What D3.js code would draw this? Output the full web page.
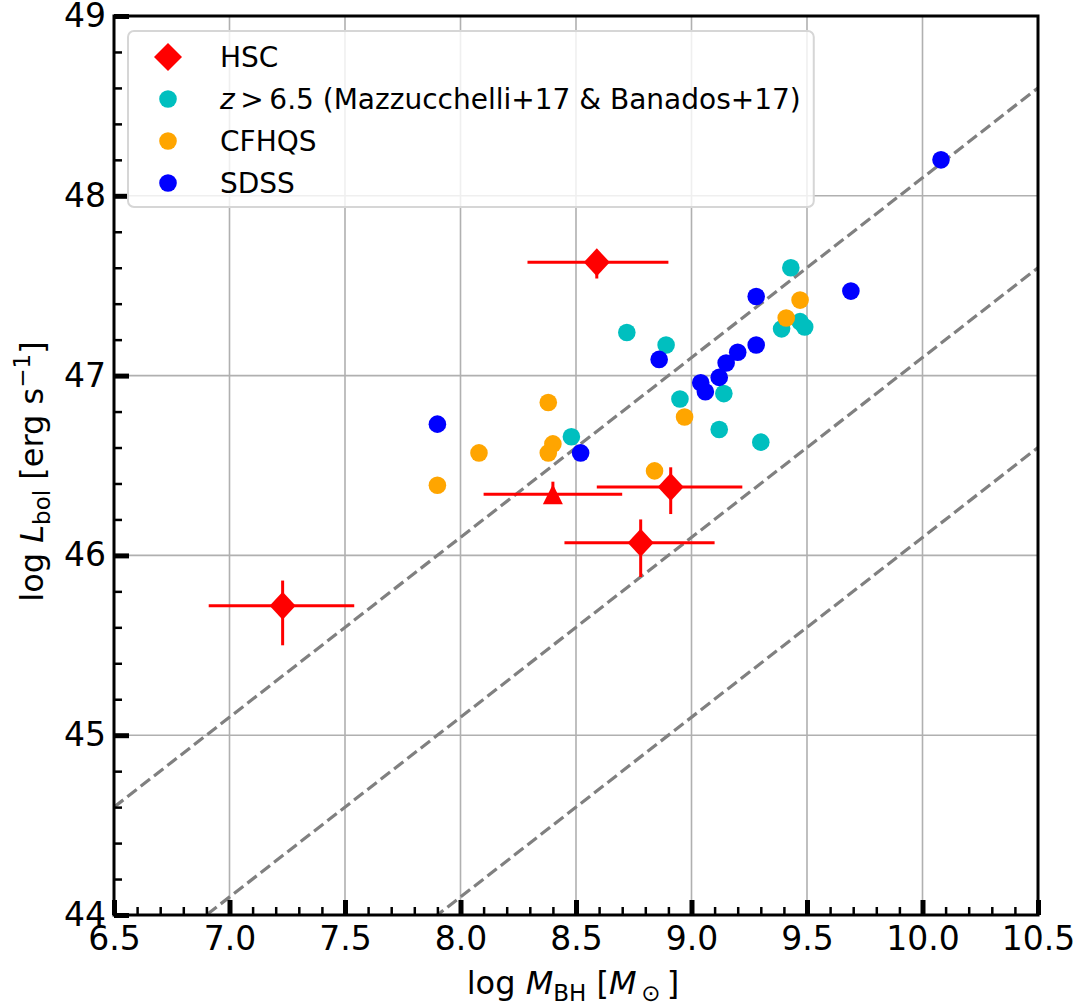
<!DOCTYPE html>
<html>
<head>
    <meta charset="utf-8">
    <title>lbol-vs-mbh</title>
    <style>
body { margin: 0; background: #fff; }
text { font-family: "DejaVu Sans", sans-serif; fill: #000; }
.grid line { stroke: #b0b0b0; stroke-width: 1.6; }
.eddington { fill: none; stroke: #808080; stroke-width: 3.2; stroke-dasharray: 11.8,5.1; }
.axis path { display: none; }
.axis text { font-size: 33px; }
    </style>
</head>
<body>
<script src="https://cdn.jsdelivr.net/npm/d3@7"></script>
<script>
// HSC quasars (one upper/lower-limit style point drawn as a triangle)
var hscMass     = [8.59, 8.40, 8.91, 8.78, 7.23];
var hscLum      = [47.63, 46.34, 46.38, 46.07, 45.72];
var hscMassLo   = [0.30, 0.30, 0.32, 0.33, 0.32];
var hscMassHi   = [0.31, 0.30, 0.31, 0.32, 0.31];
var hscLumLo    = [0.09, 0.05, 0.15, 0.19, 0.22];
var hscLumHi    = [0.06, 0.07, 0.11, 0.13, 0.14];
var hscMarker   = ["diamond", "triangle", "diamond", "diamond", "diamond"];

// z > 6.5 (Mazzucchelli+17 & Banados+17)
var highzMass = [8.72, 8.89, 9.43, 9.39, 9.47, 9.49, 8.95, 9.14, 9.12, 9.30, 8.48];
var highzLum  = [47.24, 47.17, 47.60, 47.26, 47.30, 47.27, 46.87, 46.90, 46.70, 46.63, 46.66];

// CFHQS
var cfhqsMass = [8.38, 8.40, 8.38, 8.08, 7.90, 8.84, 8.97, 9.41, 9.47];
var cfhqsLum  = [46.85, 46.62, 46.57, 46.57, 46.39, 46.47, 46.77, 47.32, 47.42];

// SDSS
var sdssMass = [7.90, 8.52, 8.86, 9.04, 9.06, 9.12, 9.15, 9.20, 9.28, 9.28, 9.69, 10.08];
var sdssLum  = [46.73, 46.57, 47.09, 46.96, 46.91, 46.99, 47.07, 47.13, 47.17, 47.44, 47.47, 48.20];

// Eddington ratio lines: log L = log M + offset  (lambda = 1, 0.1, 0.01)
var eddOffsets = [38.1, 37.1, 36.1];

var xTicks = [6.5, 7.0, 7.5, 8.0, 8.5, 9.0, 9.5, 10.0, 10.5];
var yTicks = [44, 45, 46, 47, 48, 49];
var xMinor = d3.range(66, 105).filter(function (v) { return v % 5 !== 0; }).map(function (v) { return v / 10; });
var yMinor = d3.range(220, 245).filter(function (v) { return v % 5 !== 0; }).map(function (v) { return v / 5; });

var legendLabels = ["HSC", "z", "CFHQS", "SDSS"];

var totalWidth = 1080, totalHeight = 1005;
var margin = { top: 16, right: 42, bottom: 90, left: 114 };
var width = totalWidth - margin.left - margin.right,
    height = totalHeight - margin.top - margin.bottom;

var svg = d3.select("body").append("svg")
    .attr("width", totalWidth)
    .attr("height", totalHeight);

var g = svg.append("g")
    .attr("transform", "translate(" + margin.left + "," + margin.top + ")");

var x = d3.scaleLinear().domain([6.5, 10.5]).range([0, width]);
var y = d3.scaleLinear().domain([44, 49]).range([height, 0]);

g.append("clipPath").attr("id", "plotclip")
    .append("rect").attr("width", width).attr("height", height);

// grid
var grid = g.append("g").attr("class", "grid");
grid.selectAll(".gx").data(xTicks).enter().append("line")
    .attr("x1", function (d) { return x(d); }).attr("x2", function (d) { return x(d); })
    .attr("y1", 0).attr("y2", height);
grid.selectAll(".gy").data(yTicks).enter().append("line")
    .attr("y1", function (d) { return y(d); }).attr("y2", function (d) { return y(d); })
    .attr("x1", 0).attr("x2", width);

// Eddington lines
var plot = g.append("g").attr("clip-path", "url(#plotclip)");
var line = d3.line().x(function (d) { return x(d[0]); }).y(function (d) { return y(d[1]); });
plot.selectAll(".eddington").data(eddOffsets).enter().append("path")
    .attr("class", "eddington")
    .attr("d", function (c) { return line([[6.5, 6.5 + c], [10.5, 10.5 + c]]); });

// HSC error bars + markers
function diamondPath(w, h) {
    return "M0," + (-h) + "L" + w + ",0L0," + h + "L" + (-w) + ",0Z";
}
var trianglePath = "M0,-10L10,10L-10,10Z";

var hsc = plot.selectAll(".hsc").data(hscMass.map(function (m, i) { return i; }))
    .enter().append("g").attr("class", "hsc");
hsc.append("line")
    .attr("x1", function (i) { return x(hscMass[i] - hscMassLo[i]); })
    .attr("x2", function (i) { return x(hscMass[i] + hscMassHi[i]); })
    .attr("y1", function (i) { return y(hscLum[i]); })
    .attr("y2", function (i) { return y(hscLum[i]); })
    .attr("stroke", "#ff0000").attr("stroke-width", 3);
hsc.append("line")
    .attr("x1", function (i) { return x(hscMass[i]); })
    .attr("x2", function (i) { return x(hscMass[i]); })
    .attr("y1", function (i) { return y(hscLum[i] - hscLumLo[i]); })
    .attr("y2", function (i) { return y(hscLum[i] + hscLumHi[i]); })
    .attr("stroke", "#ff0000").attr("stroke-width", 3);
hsc.append("path")
    .attr("transform", function (i) { return "translate(" + x(hscMass[i]) + "," + y(hscLum[i]) + ")"; })
    .attr("d", function (i) { return hscMarker[i] === "triangle" ? trianglePath : diamondPath(13, 14); })
    .attr("fill", "#ff0000");

// scatter samples
function scatter(masses, lums, color) {
    plot.append("g").selectAll("circle").data(masses).enter().append("circle")
        .attr("cx", function (d) { return x(d); })
        .attr("cy", function (d, i) { return y(lums[i]); })
        .attr("r", 8.8)
        .attr("fill", color);
}
scatter(highzMass, highzLum, "#00bfbf");
scatter(cfhqsMass, cfhqsLum, "#ffa500");
scatter(sdssMass, sdssLum, "#0000ff");

// axes with inward ticks
var xAxis = g.append("g").attr("class", "axis")
    .attr("transform", "translate(0," + height + ")")
    .call(d3.axisBottom(x).tickValues(xTicks).tickFormat(d3.format(".1f")).tickSize(-15).tickPadding(11.5));
xAxis.selectAll(".tick line").attr("stroke-width", 5);
g.append("g").attr("class", "axis")
    .attr("transform", "translate(0," + height + ")")
    .call(d3.axisBottom(x).tickValues(xMinor).tickFormat("").tickSize(-8))
    .selectAll(".tick line").attr("stroke-width", 2.5);

var yAxis = g.append("g").attr("class", "axis")
    .call(d3.axisLeft(y).tickValues(yTicks).tickFormat(d3.format("d")).tickSize(-15).tickPadding(8));
yAxis.selectAll(".tick line").attr("stroke-width", 5);
g.append("g").attr("class", "axis")
    .call(d3.axisLeft(y).tickValues(yMinor).tickFormat("").tickSize(-8))
    .selectAll(".tick line").attr("stroke-width", 2.5);

// spines
g.append("rect").attr("width", width).attr("height", height)
    .attr("fill", "none").attr("stroke", "#000").attr("stroke-width", 3);

// legend
var legend = g.append("g").attr("transform", "translate(14,15)");
var legendBox = legend.append("rect")
    .attr("rx", 6).attr("ry", 6)
    .attr("fill", "#fff").attr("fill-opacity", 0.8)
    .attr("stroke", "#d6d6d6").attr("stroke-width", 2);
var rowY = [26, 68, 110, 152];
var legendColors = ["#ff0000", "#00bfbf", "#ffa500", "#0000ff"];
legendLabels.forEach(function (lab, i) {
    var row = legend.append("g").attr("transform", "translate(0," + rowY[i] + ")");
    if (i === 0) {
        row.append("path").attr("transform", "translate(40,0)").attr("d", diamondPath(14, 14)).attr("fill", legendColors[i]);
    } else {
        row.append("circle").attr("cx", 40).attr("r", 8.8).attr("fill", legendColors[i]);
    }
    var t = row.append("text").attr("x", 92).attr("y", 10).style("font-size", "28px");
    if (lab === "z") {
        t.append("tspan").style("font-style", "italic").text("z");
        t.append("tspan").text("\u2009>\u20096.5 (Mazzucchelli+17 & Banados+17)");
    } else {
        t.text(lab);
    }
});
var lb = legend.node().getBBox();
legendBox.attr("x", 0).attr("y", 0).attr("width", lb.x + lb.width + 13).attr("height", 176);

// axis labels
var xl = svg.append("text").attr("x", margin.left + width / 2 - 3).attr("y", 994)
    .attr("text-anchor", "middle").style("font-size", "32px");
xl.append("tspan").text("log ");
xl.append("tspan").style("font-style", "italic").text("M");
xl.append("tspan").attr("dy", 7).style("font-size", "23px").text("BH");
xl.append("tspan").attr("dy", -7).text(" [");
xl.append("tspan").style("font-style", "italic").text("M");
xl.append("tspan").attr("dy", 7).style("font-size", "23px").text("\u2009\u2299");
xl.append("tspan").attr("dy", -7).text("\u2009]");

var yl = svg.append("text").attr("transform", "translate(43," + (margin.top + height / 2 + 6) + ") rotate(-90)")
    .attr("text-anchor", "middle").style("font-size", "32px");
yl.append("tspan").text("log ");
yl.append("tspan").style("font-style", "italic").text("L");
yl.append("tspan").attr("dy", 7).style("font-size", "23px").text("bol");
yl.append("tspan").attr("dy", -7).text(" [erg s");
yl.append("tspan").attr("dy", -13).style("font-size", "23px").text("\u22121");
yl.append("tspan").attr("dy", 13).text("]");
</script>
</body>
</html>
